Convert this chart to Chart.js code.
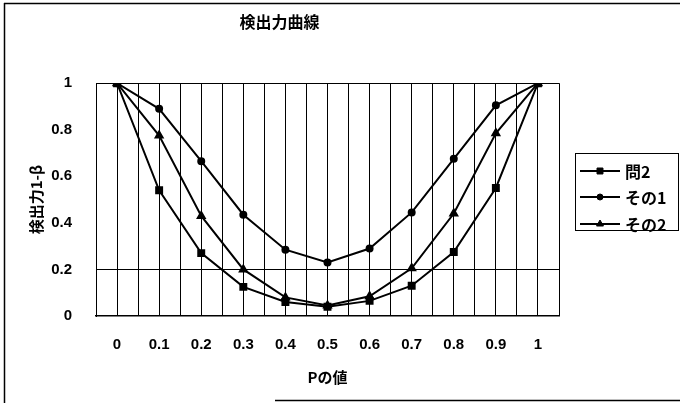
<!DOCTYPE html>
<html>
<head>
<meta charset="utf-8">
<script src="https://cdn.jsdelivr.net/npm/chart.js@4/dist/chart.umd.min.js"></script>
<style>
html,body{margin:0;padding:0;background:#fff;}
#wrap{width:680px;height:403px;}
</style>
</head>
<body>
<div id="wrap"><canvas id="c" width="680" height="403"></canvas></div>
<script>
const pValues = [0, 0.1, 0.2, 0.3, 0.4, 0.5, 0.6, 0.7, 0.8, 0.9, 1];
const xTickLabels = ['0', '0.1', '0.2', '0.3', '0.4', '0.5', '0.6', '0.7', '0.8', '0.9', '1'];
const yTickValues = [0, 0.2, 0.4, 0.6, 0.8, 1];
const seriesNames = ['問2', 'その1', 'その2'];
const toi2 = [1, 0.54, 0.27, 0.125, 0.06, 0.04, 0.065, 0.13, 0.275, 0.55, 1];
const sono1 = [1, 0.89, 0.665, 0.435, 0.285, 0.23, 0.29, 0.445, 0.675, 0.905, 1];
const sono2 = [1, 0.775, 0.43, 0.2, 0.08, 0.045, 0.085, 0.205, 0.44, 0.785, 1];
const chartTitle = '検出力曲線';
const xTitle = 'Pの値';
const yTitle = '検出力1-β';

const pts = arr => arr.map((v, i) => ({x: pValues[i], y: v}));
const styles = ['rect', 'circle', 'triangle'];
const radii = [4.2, 3, 4];
const seriesData = [toi2, sono1, sono2];

const CJK = '"Noto Sans CJK JP", "Noto Sans", sans-serif';
const NUM = '"Liberation Sans", Arial, sans-serif';

const framePlugin = {
  id: 'frame',
  afterDraw(chart) {
    const ctx = chart.ctx;
    ctx.save();
    ctx.strokeStyle = '#000';
    ctx.lineWidth = 1.5;
    ctx.beginPath();
    ctx.moveTo(4.5, 3); ctx.lineTo(4.5, 403);
    ctx.moveTo(4, 3.5); ctx.lineTo(680, 3.5);
    ctx.moveTo(275, 400.5); ctx.lineTo(680, 400.5);
    ctx.stroke();
    // legend
    const lx = 575, ly = 153, lw = 103, lh = 77;
    ctx.lineWidth = 1;
    ctx.strokeRect(lx + 0.5, ly + 0.5, lw, lh);
    const rows = [171, 197, 224];
    chart.data.datasets.forEach((ds, i) => {
      const y = rows[i];
      ctx.strokeStyle = '#000';
      ctx.fillStyle = '#000';
      ctx.lineWidth = 2;
      ctx.beginPath();
      ctx.moveTo(580, y); ctx.lineTo(620, y);
      ctx.stroke();
      ctx.lineWidth = 1;
      Chart.helpers.drawPoint(ctx, {pointStyle: ds.pointStyle, radius: ds.pointRadius, rotation: 0, borderWidth: 1}, 600, y);
      ctx.font = 'bold 16px ' + CJK;
      ctx.textBaseline = 'middle';
      ctx.textAlign = 'left';
      ctx.fillText(ds.label, 625, y + 1);
    });
    ctx.restore();
  }
};

new Chart(document.getElementById('c'), {
  type: 'line',
  data: {
    datasets: seriesNames.map((name, i) => ({
      label: name,
      data: pts(seriesData[i]),
      borderColor: '#000',
      backgroundColor: '#000',
      borderWidth: 2,
      pointStyle: styles[i],
      pointRadius: radii[i],
      pointBackgroundColor: '#000',
      pointBorderColor: '#000',
      tension: 0
    }))
  },
  options: {
    responsive: false,
    animation: false,
    layout: {padding: {left: 0, right: 121, top: 0, bottom: 0}},
    plugins: {
      legend: {display: false},
      tooltip: {enabled: false},
      title: {
        display: true,
        text: chartTitle,
        color: '#000',
        font: {family: CJK, size: 16, weight: 'bold'},
        padding: {top: 12, bottom: 52}
      }
    },
    scales: {
      x: {
        type: 'linear',
        min: -0.05,
        max: 1.05,
        afterBuildTicks(scale) {
          const t = [];
          for (let k = -1; k <= 21; k++) t.push({value: Math.round(k * 5) / 100});
          scale.ticks = t;
        },
        afterFit(scale) { scale.height = 87; },
        ticks: {
          autoSkip: false,
          maxRotation: 0,
          padding: 20,
          color: '#000',
          font: {family: NUM, size: 15, weight: 'bold'},
          callback(v) {
            const k = Math.round(v * 10);
            if (Math.abs(v * 10 - k) < 1e-6 && k >= 0 && k <= 10) return xTickLabels[k];
            return '';
          }
        },
        grid: {color: '#000', lineWidth: 1, drawTicks: false},
        border: {color: '#000', width: 1.5},
        title: {
          display: true,
          text: xTitle,
          color: '#000',
          font: {family: CJK, size: 15, weight: 'bold'},
          padding: {top: 0, bottom: 17}
        }
      },
      y: {
        min: 0,
        max: 1,
        afterBuildTicks(scale) { scale.ticks = yTickValues.map(v => ({value: v})); },
        afterFit(scale) { scale.width = 96; },
        ticks: {
          padding: 24,
          color: '#000',
          font: {family: NUM, size: 15, weight: 'bold'},
          callback(v) { return String(v); }
        },
        grid: {
          drawTicks: false,
          color: ctx => (ctx.tick && (Math.abs(ctx.tick.value - 0.2) < 1e-6 || Math.abs(ctx.tick.value - 1) < 1e-6)) ? '#000' : 'rgba(0,0,0,0)',
          lineWidth: 1
        },
        border: {color: '#000', width: 1},
        title: {
          display: true,
          text: yTitle,
          color: '#000',
          font: {family: CJK, size: 15, weight: 'bold'},
          padding: {top: 27, bottom: 0}
        }
      }
    }
  },
  plugins: [framePlugin]
});
</script>
</body>
</html>
